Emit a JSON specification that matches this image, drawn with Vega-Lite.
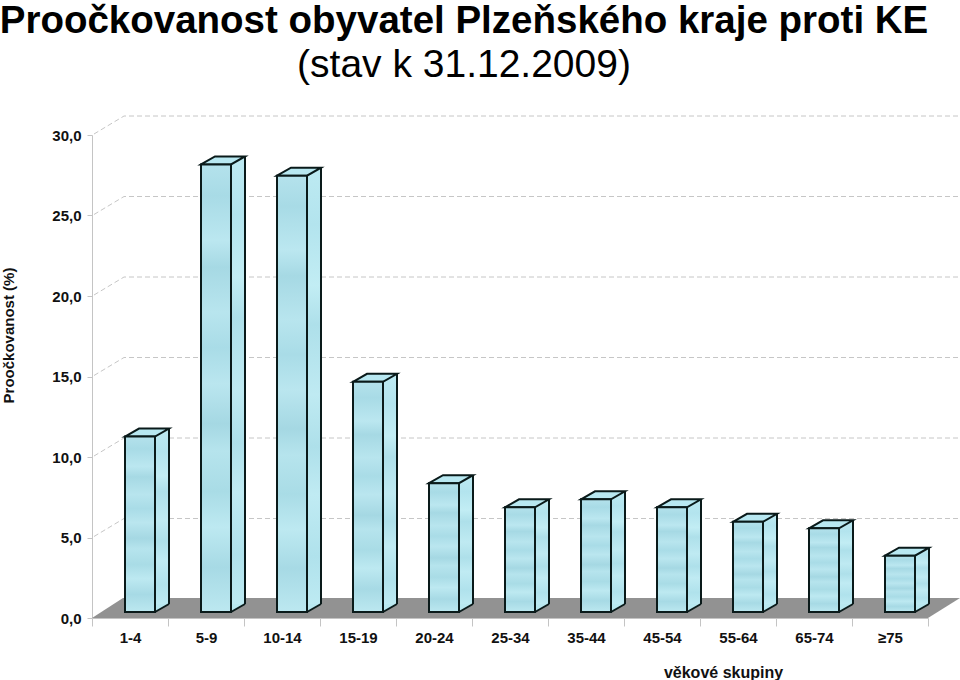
{
"$schema":"https://vega.github.io/schema/vega-lite/v6.json",
"width":836,"height":483,
"autosize":"none",
"padding":{"left":92,"top":135,"right":32,"bottom":62},
"background":"white",
"config":{"view":{"stroke":null}},
"title":{"text":"Proočkovanost obyvatel Plzeňského kraje proti KE","subtitle":"(stav k 31.12.2009)","anchor":"middle","frame":"group","dx":-46,"offset":28,"font":"Liberation Sans","fontWeight":"bold","fontSize":38.5,"color":"#000000","subtitleFont":"Liberation Sans","subtitleFontWeight":"normal","subtitleFontSize":39,"subtitleColor":"#000000","subtitlePadding":5},
"data":{"values":[
{"group":"1-4","value":10.9},
{"group":"5-9","value":27.8},
{"group":"10-14","value":27.1},
{"group":"15-19","value":14.3},
{"group":"20-24","value":8.0},
{"group":"25-34","value":6.5},
{"group":"35-44","value":7.0},
{"group":"45-54","value":6.5},
{"group":"55-64","value":5.6},
{"group":"65-74","value":5.2},
{"group":"≥75","value":3.5}
]},
"encoding":{
"x":{"field":"group","type":"nominal","sort":null,"scale":{"paddingInner":0,"paddingOuter":0},
"axis":{"title":"věkové skupiny","titleX":631,"titleY":46,"titleFont":"Liberation Sans","titleFontSize":16,"titleFontWeight":"bold","titleColor":"#111111","labelAngle":0,"labelFont":"Liberation Sans","labelFontSize":15,"labelFontWeight":"bold","labelColor":"#111111","labelPadding":4,"tickBand":"extent","tickSize":8,"tickColor":"#c4c4c4","domainColor":"#c4c4c4","grid":false}},
"y":{"field":"value","type":"quantitative","scale":{"domain":[0,30],"nice":false},
"axis":{"title":"Proočkovanost (%)","titleX":-76,"titleY":200,"titleFont":"Liberation Sans","titleFontSize":15,"titleFontWeight":"bold","titleColor":"#111111","values":[0,5,10,15,20,25,30],"labelExpr":"replace(format(datum.value,'.1f'),'.',',')","labelFont":"Liberation Sans","labelFontSize":15,"labelFontWeight":"bold","labelColor":"#111111","labelPadding":6,"tickSize":5,"tickColor":"#c4c4c4","domainColor":"#c4c4c4","grid":false}}
},
"layer":[
{"data":{"values":[{"group":"1-4","value":5},{"group":"1-4","value":10},{"group":"1-4","value":15},{"group":"1-4","value":20},{"group":"1-4","value":25},{"group":"1-4","value":30}]},
 "mark":{"type":"point","shape":"M-36,-1L-6,-19L830,-19","size":4,"filled":false,"stroke":"#c6c6c6","strokeWidth":1,"strokeDash":[5,3],"opacity":1}},
{"data":{"values":[{"group":"1-4","value":0}]},
 "mark":{"type":"point","shape":"M-38,0L-7,-20L830,-20L798,0Z","size":4,"filled":true,"fill":"#929292","opacity":1,"strokeWidth":0}},
{"mark":{"type":"bar","width":14,"xOffset":32,"yOffset":-14,"y2Offset":-14,"fill":{"gradient":"linear","x1":0,"y1":0,"x2":0,"y2":1,"stops":[{"offset":0,"color":"#bdeaf2"},{"offset":0.13,"color":"#b3e4ee"},{"offset":0.27,"color":"#c2edf4"},{"offset":0.36,"color":"#aee0ea"},{"offset":0.52,"color":"#bfeaf2"},{"offset":0.64,"color":"#aee0ea"},{"offset":0.75,"color":"#c0ebf3"},{"offset":0.89,"color":"#b0e2ec"},{"offset":1,"color":"#bdeaf2"}]}}},
{"mark":{"type":"point","shape":"M-5,-6L9,-14L39,-14L25,-6Z","size":4,"filled":true,"fill":"#b8e8f1","stroke":"#0a1a1a","strokeWidth":2,"opacity":1}},
{"mark":{"type":"bar","width":2,"xOffset":39,"yOffset":-14,"y2Offset":-14,"fill":"#0a1a1a"}},
{"transform":[{"calculate":"0","as":"base"}],"encoding":{"y":{"field":"base","type":"quantitative"}},
 "mark":{"type":"point","shape":"M25,-6L39,-14L25,-14Z","size":4,"filled":true,"fill":"#b8e8f0","opacity":1,"strokeWidth":0}},
{"transform":[{"calculate":"0","as":"base"}],"encoding":{"y":{"field":"base","type":"quantitative"}},
 "mark":{"type":"point","shape":"M25,-6L39,-14","size":4,"filled":false,"stroke":"#0a1a1a","strokeWidth":2,"opacity":1}},
{"mark":{"type":"bar","width":30,"xOffset":10,"yOffset":-6,"y2Offset":-6,"stroke":"#0a1a1a","strokeWidth":2,"fill":{"gradient":"linear","x1":0,"y1":0,"x2":0,"y2":1,"stops":[{"offset":0,"color":"#b4e2ec"},{"offset":0.07,"color":"#a8dbe6"},{"offset":0.17,"color":"#bbe7f0"},{"offset":0.23,"color":"#a6d9e4"},{"offset":0.33,"color":"#b8e5ee"},{"offset":0.41,"color":"#a9dce7"},{"offset":0.49,"color":"#bae6ef"},{"offset":0.58,"color":"#a5d8e3"},{"offset":0.64,"color":"#b6e4ed"},{"offset":0.73,"color":"#a9dce6"},{"offset":0.81,"color":"#bde9f1"},{"offset":0.9,"color":"#a7dae5"},{"offset":1,"color":"#bce8f0"}]}}}
]
}
